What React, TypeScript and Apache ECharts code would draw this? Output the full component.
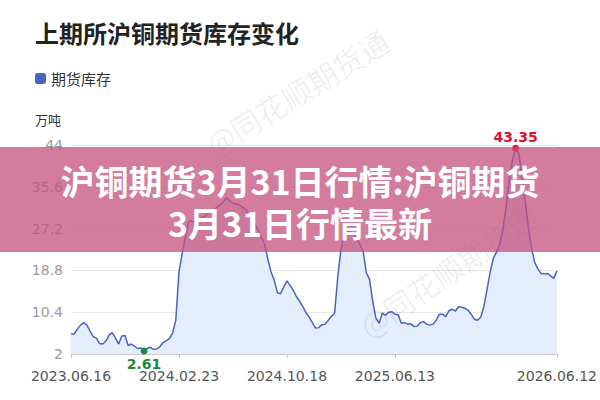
import React, { useEffect, useRef } from "react";
import * as echarts from "echarts";

const TITLE = "上期所沪铜期货库存变化";
const SERIES_NAME = "期货库存";
const UNIT = "万吨";
const BANNER_LINE1 = "沪铜期货3月31日行情:沪铜期货";
const BANNER_LINE2 = "3月31日行情最新";
const WATERMARK = "@同花顺期货通";

// weekly report dates (Fridays), weeks without a report are skipped
const FIRST_DATE = "2023-06-16";
const LAST_DATE = "2026-06-12";
const SKIPPED_WEEKS = ["2023-10-06", "2024-02-16", "2026-02-20"];
const SHOWN_LABELS = ["2023.06.16", "2024.02.23", "2024.10.18", "2025.06.13", "2026.06.12"];

const Y_MIN = 2;
const Y_MAX = 44;
const Y_STEP = 8.4;

// SHFE copper futures inventory, 10k tonnes
const inventory = [
  6.0, 6.0, 7.0, 7.8, 8.3, 7.8, 6.6, 5.5, 5.2, 4.1,
  4.0, 4.6, 5.8, 6.3, 5.2, 4.0, 5.6, 5.7, 3.7, 4.0,
  3.6, 3.1, 3.2, 2.61, 3.1, 3.35, 2.95, 3.0, 3.5, 4.3,
  4.7, 5.1, 6.2, 8.8, 18.5, 22.2, 25.5, 28.6, 28.8, 28.3,
  29.0, 29.4, 29.6, 30.3, 30.8, 31.0, 31.5, 32.0, 32.6, 33.4,
  32.8, 32.3, 32.2, 31.9, 31.5, 31.0, 30.0, 29.0, 28.0, 26.8,
  25.3, 24.0, 21.0, 18.5, 16.8, 14.3, 14.1, 15.5, 16.7, 15.8,
  14.8, 13.5, 12.6, 11.5, 10.3, 9.4, 8.3, 7.2, 7.3, 7.9,
  8.0, 8.8, 9.6, 10.2, 17.5, 23.0, 25.8, 26.5, 26.5, 26.0,
  25.2, 24.0, 22.6, 18.3, 17.0, 12.6, 9.2, 8.2, 10.2, 9.8,
  10.4, 10.5, 10.0, 9.9, 8.2, 8.3, 8.0, 8.1, 7.5, 7.6,
  8.3, 8.5, 8.0, 7.8, 8.0, 8.8, 10.0, 10.0, 9.5, 10.7,
  11.0, 10.6, 11.5, 11.4, 11.2, 10.8, 10.0, 9.0, 8.8, 9.4,
  11.5, 15.0, 18.5, 21.3, 22.5, 24.0, 27.0, 31.5, 37.0, 41.0,
  43.35, 42.2, 38.0, 32.8, 27.5, 23.3, 20.4, 19.1, 18.2, 18.1,
  18.2, 17.7, 17.2, 18.7,
];

function buildDates(): string[] {
  const out: string[] = [];
  const d = new Date(FIRST_DATE + "T00:00:00Z");
  const end = new Date(LAST_DATE + "T00:00:00Z");
  while (d.getTime() <= end.getTime()) {
    const iso = d.toISOString().slice(0, 10);
    if (SKIPPED_WEEKS.indexOf(iso) < 0) out.push(iso.replace(/-/g, "."));
    d.setUTCDate(d.getUTCDate() + 7);
  }
  return out;
}

const dates = buildDates();

const NUM_FONT = "'DejaVu Sans', 'Noto Sans CJK SC', sans-serif";
const CJK_FONT = "'Noto Sans CJK SC', sans-serif";

export default function App() {
  const ref = useRef<HTMLDivElement>(null);

  useEffect(() => {
    if (!ref.current) return;
    const chart = echarts.init(ref.current, undefined, { renderer: "svg" });
    const showLabel = (idx: number) => SHOWN_LABELS.indexOf(dates[idx]) >= 0;

    chart.setOption({
      animation: false,
      backgroundColor: "#ffffff",
      title: {
        text: TITLE,
        left: 35,
        top: 20,
        padding: 0,
        textStyle: {
          fontFamily: CJK_FONT,
          fontSize: 24,
          fontWeight: "bold",
          color: "#222222",
        },
      },
      legend: {
        data: [SERIES_NAME],
        left: 35,
        top: 71,
        padding: 0,
        icon: "roundRect",
        itemWidth: 11,
        itemHeight: 11,
        itemGap: 10,
        textStyle: { fontFamily: CJK_FONT, fontSize: 15, color: "#333333" },
      },
      grid: { left: 71, right: 42, top: 145, bottom: 46, containLabel: false },
      xAxis: {
        type: "category",
        data: dates,
        boundaryGap: false,
        axisLine: { lineStyle: { color: "#c8c8c8" } },
        axisTick: { show: true, interval: showLabel, length: 4, lineStyle: { color: "#c8c8c8" } },
        axisLabel: {
          interval: showLabel,
          color: "#555555",
          fontSize: 14,
          fontFamily: NUM_FONT,
          margin: 15,
        },
        splitLine: { show: false },
      },
      yAxis: {
        type: "value",
        min: Y_MIN,
        max: Y_MAX,
        interval: Y_STEP,
        axisLine: { show: false },
        axisTick: { show: false },
        axisLabel: {
          color: "#999999",
          fontSize: 14,
          fontFamily: NUM_FONT,
          margin: 8,
          formatter: (v: number) => String(Math.round(v * 10) / 10),
        },
        splitLine: { lineStyle: { color: "#e6e6e6" } },
      },
      series: [
        {
          name: SERIES_NAME,
          type: "line",
          data: inventory,
          symbol: "none",
          color: "#4864c3",
          lineStyle: { width: 1.5, color: "#4864c3" },
          areaStyle: { color: "#e4edfc", opacity: 1 },
          z: 2,
          markPoint: {
            symbol: "circle",
            symbolSize: 7,
            data: [
              {
                type: "max",
                itemStyle: { color: "#e3102c" },
                label: {
                  show: true,
                  position: "top",
                  distance: 1,
                  color: "#e3102c",
                  fontSize: 14,
                  fontWeight: "bold",
                  fontFamily: NUM_FONT,
                },
              },
              {
                type: "min",
                itemStyle: { color: "#1c8a3c" },
                label: {
                  show: true,
                  position: "bottom",
                  distance: 3,
                  color: "#1c8a3c",
                  fontSize: 14,
                  fontWeight: "bold",
                  fontFamily: NUM_FONT,
                },
              },
            ],
          },
        },
      ],
      graphic: [
        {
          type: "text",
          left: 35,
          top: 113,
          style: { text: UNIT, fontFamily: CJK_FONT, fontSize: 13, fill: "#333333" },
        },
        {
          type: "text",
          x: 297,
          y: 92,
          rotation: 0.55,
          z: 1,
          style: {
            text: WATERMARK,
            fontFamily: CJK_FONT,
            fontSize: 30,
            fill: "rgba(0,0,0,0.07)",
            align: "center",
            verticalAlign: "middle",
          },
        },
        {
          type: "text",
          x: 448,
          y: 270,
          rotation: 0.6,
          z: 3,
          style: {
            text: WATERMARK,
            fontFamily: CJK_FONT,
            fontSize: 30,
            fill: "rgba(0,0,0,0.07)",
            align: "center",
            verticalAlign: "middle",
          },
        },
        {
          type: "rect",
          z: 100,
          shape: { x: 0, y: 147, width: 600, height: 105 },
          style: { fill: "rgba(196,80,125,0.75)" },
        },
        {
          type: "text",
          z: 101,
          x: 300,
          y: 180,
          style: {
            text: BANNER_LINE1,
            fontFamily: CJK_FONT,
            fontSize: 34,
            fontWeight: "bold",
            fill: "#ffffff",
            align: "center",
            verticalAlign: "middle",
          },
        },
        {
          type: "text",
          z: 101,
          x: 300,
          y: 222,
          style: {
            text: BANNER_LINE2,
            fontFamily: CJK_FONT,
            fontSize: 34,
            fontWeight: "bold",
            fill: "#ffffff",
            align: "center",
            verticalAlign: "middle",
          },
        },
      ],
    });

    return () => chart.dispose();
  }, []);

  return <div ref={ref} style={{ width: 600, height: 400, position: "absolute", left: 0, top: 0 }} />;
}
